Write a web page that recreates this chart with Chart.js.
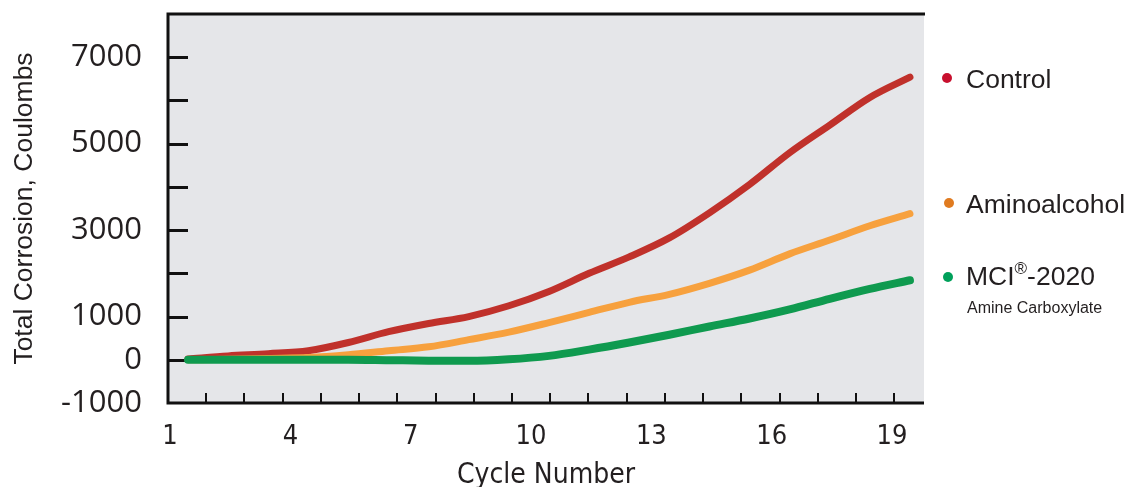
<!DOCTYPE html>
<html>
<head>
<meta charset="utf-8">
<script src="https://cdn.jsdelivr.net/npm/chart.js@4.4.0/dist/chart.umd.min.js"></script>
<style>
  html, body { margin: 0; padding: 0; background: #fff; }
  #wrap { position: relative; width: 1134px; height: 487px; overflow: hidden; }
  #chart { position: absolute; left: 0; top: 0; }
  .key { position: absolute; font-family: "Liberation Sans", Arial, sans-serif; font-size: 26.5px; line-height: 1; color: #231f20; white-space: nowrap; }
  .key sup { font-size: 17px; line-height: 0; vertical-align: 11px; }
  .key.small { font-size: 16px; }
  .dot { position: absolute; width: 10px; height: 10px; border-radius: 50%; }
</style>
</head>
<body>
<div id="wrap">
  <canvas id="chart" width="1134" height="487"></canvas>
  <div class="dot" style="left:942px;top:73px;background:#c8102e"></div>
  <div class="key" style="left:966px;top:66px">Control</div>
  <div class="dot" style="left:944px;top:198px;background:#e07b20"></div>
  <div class="key" style="left:966px;top:191px">Aminoalcohol</div>
  <div class="dot" style="left:943px;top:272px;background:#00a05a"></div>
  <div class="key" style="left:966px;top:263px">MCI<sup>®</sup>-2020</div>
  <div class="key small" style="left:967px;top:300px">Amine Carboxylate</div>
</div>
<script>
// values
const cycles = [1, 2, 3, 4, 5, 6, 7, 8, 9, 10, 11, 12, 13, 14, 15, 16, 17, 18, 19];
const control = [20, 90, 140, 210, 400, 650, 840, 1000, 1250, 1580, 2000, 2380, 2820, 3400, 4055, 4790, 5430, 6070, 6540];
const aminoalcohol = [0, 10, 30, 50, 115, 210, 300, 465, 640, 860, 1095, 1330, 1515, 1770, 2075, 2450, 2770, 3100, 3380];
const mci2020 = [0, 0, 0, 0, 0, -10, -20, -25, 10, 90, 235, 400, 580, 770, 955, 1165, 1410, 1640, 1840];

const xTickLabels = [1, 4, 7, 10, 13, 16, 19];
const yTickLabels = [-1000, 0, 1000, 3000, 5000, 7000];
const yTickMarks = [0, 1000, 2000, 3000, 4000, 5000, 6000, 7000];
const xTickMarks = [1, 2, 3, 4, 5, 6, 7, 8, 9, 10, 11, 12, 13, 14, 15, 16, 17, 18, 19];

const narrow = '"DejaVu Sans Condensed", "Liberation Sans Narrow", Roboto, sans-serif';

function points(arr) {
    return cycles.map((c, i) => ({ x: c, y: arr[i] }));
}

// plot background, frame and inner tick marks
const frame = {
    id: 'frame',
    beforeDraw(chart) {
        const { ctx, chartArea: a } = chart;
        ctx.save();
        ctx.fillStyle = '#e5e6e9';
        ctx.fillRect(a.left, a.top, a.right - a.left, a.bottom - a.top);
        ctx.restore();
    },
    beforeDatasetsDraw(chart) {
        const { ctx, chartArea: a, scales } = chart;
        ctx.save();
        ctx.strokeStyle = '#111';
        ctx.lineWidth = 3;
        yTickMarks.forEach(v => {
            let y = Math.round(scales.y.getPixelForValue(v)) + 0.5;
            ctx.beginPath();
            ctx.moveTo(a.left, y);
            ctx.lineTo(a.left + 20, y);
            ctx.stroke();
        });
        ctx.lineWidth = 2;
        xTickMarks.forEach(v => {
            let x = Math.round(scales.x2.getPixelForValue(v));
            ctx.beginPath();
            ctx.moveTo(x, a.bottom);
            ctx.lineTo(x, a.bottom - 10);
            ctx.stroke();
        });
        ctx.lineWidth = 3;
        ctx.beginPath();
        ctx.moveTo(a.right + 1, a.top);
        ctx.lineTo(a.left, a.top);
        ctx.lineTo(a.left, a.bottom);
        ctx.lineTo(a.right, a.bottom);
        ctx.stroke();
        ctx.restore();
    }
};

new Chart(document.getElementById('chart'), {
    type: 'line',
    data: {
        datasets: [
            { label: 'MCI-2020', data: points(mci2020), borderColor: '#0f9a4f', borderWidth: 8, order: 1 },
            { label: 'Aminoalcohol', data: points(aminoalcohol), borderColor: '#f7a13e', borderWidth: 7, order: 2 },
            { label: 'Control', data: points(control), borderColor: '#c0312b', borderWidth: 7, order: 3 }
        ]
    },
    options: {
        responsive: false,
        animation: false,
        layout: { padding: { left: 0, top: 14, right: 210, bottom: 0 } },
        elements: {
            point: { radius: 0 },
            line: { cubicInterpolationMode: 'monotone', borderCapStyle: 'round', borderJoinStyle: 'round', fill: false }
        },
        plugins: { legend: { display: false }, tooltip: { enabled: false } },
        scales: {
            x: {
                type: 'linear',
                min: 0.5,
                max: 19.35,
                afterFit: s => { s.height = 84; s.paddingLeft = 0; s.paddingRight = 0; },
                afterBuildTicks: s => { s.ticks = xTickLabels.map(v => ({ value: v })); },
                grid: { display: false },
                border: { display: false },
                ticks: {
                    padding: 10,
                    labelOffset: -18,
                    color: '#231f20',
                    font: { family: narrow, size: 27 }
                },
                title: {
                    display: true,
                    text: 'Cycle Number',
                    color: '#231f20',
                    padding: { top: 0, bottom: 0 },
                    font: { family: narrow, size: 28, lineHeight: 0.8 }
                }
            },
            x2: { type: 'linear', display: false, min: 0, max: 19.78 },
            y: {
                min: -1000,
                max: 8000,
                afterFit: s => { s.width = 168; s.paddingTop = 0; s.paddingBottom = 0; },
                grid: { display: false },
                border: { display: false },
                ticks: {
                    stepSize: 1000,
                    padding: 18,
                    color: '#231f20',
                    font: { family: '"Open Sans", sans-serif', size: 31 },
                    callback: v => yTickLabels.includes(v) ? String(v) : ''
                },
                title: {
                    display: true,
                    text: 'Total Corrosion, Coulombs',
                    color: '#231f20',
                    padding: { top: 9, bottom: 0 },
                    font: { family: '"Liberation Sans", Arial, sans-serif', size: 26.5, lineHeight: 1.2 }
                }
            }
        }
    },
    plugins: [frame]
});
</script>
</body>
</html>
